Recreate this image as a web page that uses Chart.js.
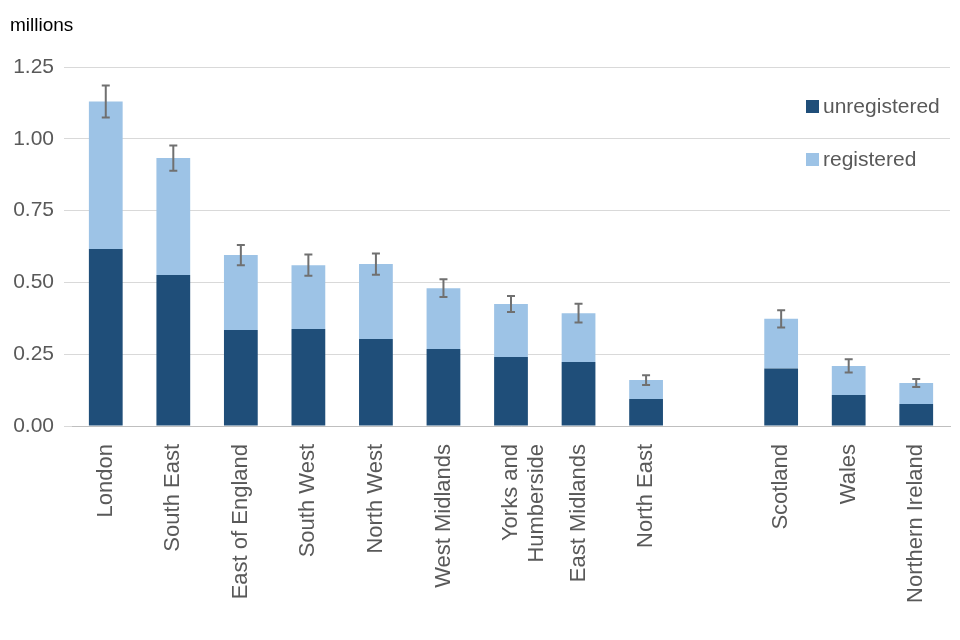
<!DOCTYPE html>
<html>
<head>
<meta charset="utf-8">
<script src="https://cdn.jsdelivr.net/npm/chart.js@4/dist/chart.umd.min.js"></script>
<style>
  body { margin: 0; background: #fff; }
  #wrap { width: 960px; height: 640px; }
</style>
</head>
<body>
<div id="wrap"><canvas id="c"></canvas></div>
<script>
const regions = ["London", "South East", "East of England", "South West", "North West", "West Midlands",
  ["Yorks and", "Humberside"], "East Midlands", "North East", "", "Scotland", "Wales", "Northern Ireland"];
const unregistered = [0.616, 0.526, 0.334, 0.338, 0.303, 0.268, 0.240, 0.223, 0.094, null, 0.200, 0.108, 0.077];
const registered = [0.514, 0.407, 0.261, 0.222, 0.261, 0.212, 0.185, 0.170, 0.066, null, 0.173, 0.101, 0.073];
const errHalf = [0.056, 0.044, 0.035, 0.037, 0.037, 0.031, 0.028, 0.033, 0.017, null, 0.030, 0.023, 0.014];
const yTicks = [0, 0.25, 0.5, 0.75, 1.0, 1.25];

const DARK = "#1f4e79";
const LIGHT = "#9dc3e6";
const TEXT = "#595959";
const FONT = "'Liberation Sans', Arial, sans-serif";

const extras = {
  id: "extras",
  afterDatasetsDraw(chart) {
    const { ctx, scales } = chart;
    const meta = chart.getDatasetMeta(1);
    ctx.save();
    ctx.strokeStyle = "#707070";
    ctx.lineWidth = 2;
    meta.data.forEach((bar, i) => {
      if (errHalf[i] == null) return;
      const total = unregistered[i] + registered[i];
      const x = bar.x;
      const y1 = scales.y.getPixelForValue(total + errHalf[i]);
      const y2 = scales.y.getPixelForValue(total - errHalf[i]);
      ctx.beginPath();
      ctx.moveTo(x, y1); ctx.lineTo(x, y2);
      ctx.moveTo(x - 4, y1); ctx.lineTo(x + 4, y1);
      ctx.moveTo(x - 4, y2); ctx.lineTo(x + 4, y2);
      ctx.stroke();
    });
    // axis title
    ctx.fillStyle = "#000";
    ctx.font = "19px " + FONT;
    ctx.textBaseline = "middle";
    ctx.fillText("millions", 10, 26);
    // legend
    const items = [["unregistered", DARK, 107], ["registered", LIGHT, 160]];
    ctx.font = "21px " + FONT;
    for (const [label, col, y] of items) {
      ctx.fillStyle = col;
      ctx.fillRect(806, y - 7, 13, 13);
      ctx.fillStyle = TEXT;
      ctx.fillText(label, 823, y);
    }
    ctx.restore();
  }
};

new Chart(document.getElementById("c"), {
  type: "bar",
  data: {
    labels: regions,
    datasets: [
      { label: "unregistered", data: unregistered, backgroundColor: DARK },
      { label: "registered", data: registered, backgroundColor: LIGHT }
    ]
  },
  options: {
    responsive: true,
    maintainAspectRatio: false,
    animation: false,
    layout: { padding: { top: 67, right: 10, left: 4, bottom: 4 } },
    datasets: { bar: { barPercentage: 0.5, categoryPercentage: 1 } },
    plugins: { legend: { display: false }, tooltip: { enabled: false } },
    scales: {
      x: {
        stacked: true,
        grid: { display: false },
        border: { color: "#bfbfbf" },
        afterFit(axis) { axis.height = 210; },
        ticks: { color: TEXT, padding: 10, font: { size: 22, family: FONT }, maxRotation: 90, minRotation: 90, autoSkip: false }
      },
      y: {
        stacked: true,
        min: 0, max: 1.25,
        afterBuildTicks(axis) { axis.ticks = yTicks.map(v => ({ value: v })); },
        afterFit(axis) { axis.width = 68; },
        grid: { color: "#d9d9d9" },
        border: { display: false },
        ticks: { color: TEXT, padding: 10, font: { size: 21, family: FONT }, callback: v => v.toFixed(2) }
      }
    }
  },
  plugins: [extras]
});
</script>
</body>
</html>
